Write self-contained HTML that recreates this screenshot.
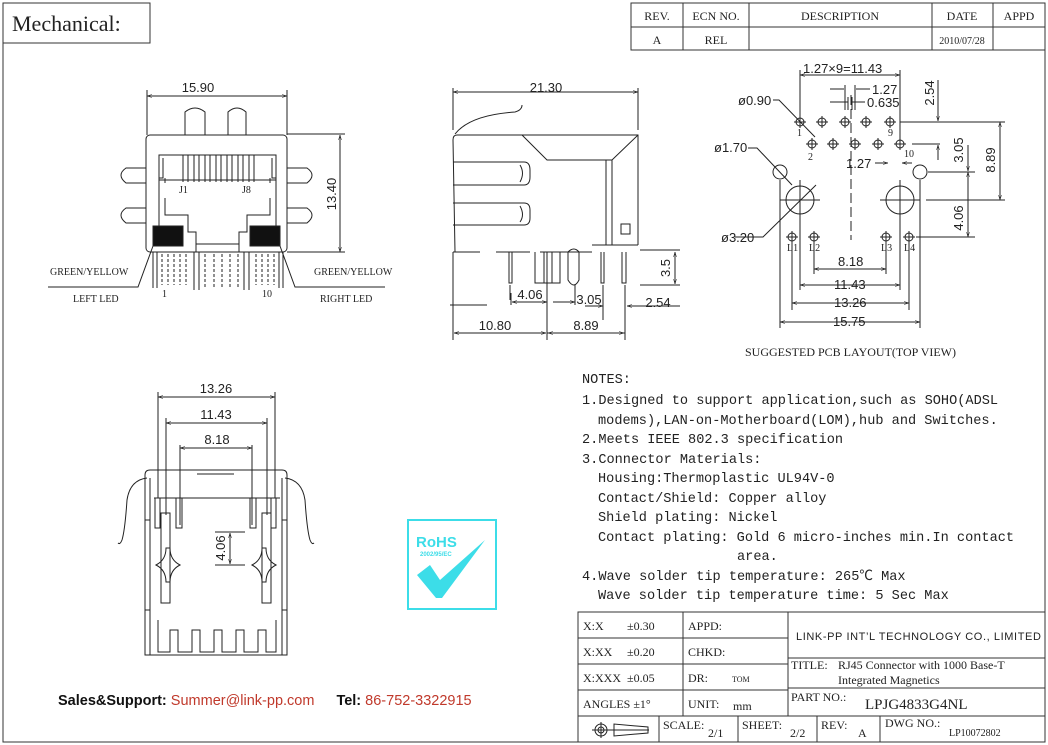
<!DOCTYPE html>
<html><head><meta charset="utf-8"><style>
html,body{margin:0;padding:0;background:#fff;}
svg{display:block;}
.t{font-family:"Liberation Serif","Noto Serif CJK SC",serif;fill:#222;}
.s{font-family:"Liberation Sans",sans-serif;fill:#222;}
.m{font-family:"Liberation Mono","Noto Sans CJK SC",monospace;fill:#222;}
</style></head><body>
<svg width="1048" height="745" viewBox="0 0 1048 745" xmlns="http://www.w3.org/2000/svg">
<defs>
<marker id="a" viewBox="0 0 10 10" refX="10" refY="5" markerWidth="7" markerHeight="5" orient="auto-start-reverse"><path d="M0,2 L10,5 L0,8" fill="none" stroke="#222"/></marker>
</defs>
<g fill="none" stroke="#333" stroke-width="1">
<path d="M3,43 V742 H1045 V3"/>
<rect x="3" y="3" width="147" height="40"/>
<rect x="631" y="3" width="414" height="47"/>
<path d="M631,27 H1045 M683,3 V50 M749,3 V50 M932,3 V50 M993,3 V50"/>
<rect x="578" y="612" width="467" height="130"/>
<path d="M578,638 H788 M578,664 H788 M578,690 H788 M788,658 H1045 M788,688 H1045 M578,716 H1045 M788,612 V716 M683,612 V716 M659,716 V742 M738,716 V742 M817,716 V742 M880,716 V742"/>
</g>
<text x="12" y="31" class="t" font-size="22">Mechanical:</text>
<g class="t" font-size="12" text-anchor="middle">
<text x="657" y="20">REV.</text><text x="716" y="20">ECN NO.</text><text x="840" y="20">DESCRIPTION</text><text x="962" y="20">DATE</text><text x="1019" y="20">APPD</text>
<text x="657" y="44">A</text><text x="716" y="44">REL</text><text x="962" y="44" font-size="10">2010/07/28</text>
</g>
<g class="t" font-size="12">
<text x="583" y="630">X:X</text><text x="627" y="630">±0.30</text><text x="688" y="630">APPD:</text>
<text x="583" y="656">X:XX</text><text x="627" y="656">±0.20</text><text x="688" y="656">CHKD:</text>
<text x="583" y="682">X:XXX</text><text x="627" y="682">±0.05</text><text x="688" y="682">DR:</text><text x="732" y="682" font-size="8">TOM</text>
<text x="583" y="708">ANGLES ±1°</text><text x="688" y="708">UNIT:</text><text x="733" y="710">mm</text>
<text x="663" y="729">SCALE:</text><text x="708" y="737">2/1</text>
<text x="742" y="729">SHEET:</text><text x="790" y="737">2/2</text>
<text x="821" y="729">REV:</text><text x="858" y="737">A</text>
<text x="885" y="727">DWG NO.:</text><text x="949" y="736" font-size="10">LP10072802</text>
<text x="791" y="669">TITLE:</text><text x="838" y="669">RJ45 Connector with 1000 Base-T</text>
<text x="838" y="684">Integrated Magnetics</text>
<text x="791" y="701">PART NO.:</text><text x="865" y="709" font-size="15">LPJG4833G4NL</text>
</g>
<text x="796" y="640" class="s" font-size="11" letter-spacing="0.6">LINK-PP INT’L TECHNOLOGY CO., LIMITED</text>
<g fill="none" stroke="#222"><circle cx="601" cy="730" r="6"/><circle cx="601" cy="730" r="3"/><path d="M592,730 H649 M601,722 V738 M614,724 V736 L648,733 V727 Z"/></g>

<!-- FRONT VIEW -->
<g fill="none" stroke="#222" stroke-width="1">
<path d="M147,90 V135 M287,90 V135"/>
<line x1="147" y1="96" x2="287" y2="96" marker-start="url(#a)" marker-end="url(#a)"/>
<line x1="340" y1="135" x2="340" y2="252" marker-start="url(#a)" marker-end="url(#a)"/>
<path d="M287,134 H345 M287,252 H345"/>
<rect x="146" y="135" width="141" height="117" rx="4"/>
<path d="M185,135 V112 Q195,104 205,112 V135 M228,135 V112 Q237,104 246,112 V135"/>
<path d="M146,168 H126 Q116,175 126,183 H146 M146,208 H126 Q116,215 126,223 H146 M287,168 H307 Q317,175 307,183 H287 M287,208 H307 Q317,215 307,223 H287"/>
<path d="M159,198 V155 H276 V198 M159,180 H276 M159,178 H163 V158 M276,178 H272 V158 M165,178 V183 M270,178 V183"/>
<path d="M183,155 V182 M188,155 V182 M194,155 V182 M199,155 V182 M205,155 V182 M210,155 V182 M216,155 V182 M221,155 V182 M227,155 V182 M232,155 V182 M238,155 V182 M243,155 V182 M249,155 V182 M254,155 V182"/>
<path d="M159,198 V226 M165,198 V215 H188 V232 H196 V244 H239 V232 H247 V215 H270 V198 M276,198 V226 M196,244 V252 M239,244 V252"/>
<rect x="153" y="226" width="30" height="20" fill="#111"/>
<rect x="250" y="226" width="30" height="20" fill="#111"/>
<path d="M153,252 V288 M157,252 V288 M283,252 V288 M279,252 V288"/>
<path d="M162,254 V285 M168,254 V285 M174,254 V285 M180,254 V285 M186,254 V285 M205,254 V288 M214,254 V288 M222,254 V288 M230,254 V288 M238,254 V288 M256,254 V285 M262,254 V285 M268,254 V285 M274,254 V285" stroke-dasharray="3,2"/>
<path d="M194,252 V290 M199,252 V290 M244,252 V290 M249,252 V290"/>
<path d="M48,287 H138 L153,246 M385,287 H295 L280,246"/>
</g>
<g class="t" font-size="10">
<text x="179" y="193">J1</text><text x="242" y="193">J8</text>
<text x="50" y="275">GREEN/YELLOW</text><text x="314" y="275">GREEN/YELLOW</text>
<text x="73" y="302">LEFT LED</text><text x="320" y="302">RIGHT LED</text>
<text x="162" y="297">1</text><text x="262" y="297">10</text>
</g>
<text x="198" y="92" class="s" font-size="13" text-anchor="middle">15.90</text>
<text x="336" y="194" class="s" font-size="13" text-anchor="middle" transform="rotate(-90 336 194)">13.40</text>

<!-- SIDE VIEW -->
<g fill="none" stroke="#222">
<path d="M453,88 V130 M638,88 V130 M453,252 V340 M547,252 V340 M625,285 V340 M603,285 V320 M510,285 V300 M575,285 V300"/>
<line x1="453" y1="92" x2="638" y2="92" marker-start="url(#a)" marker-end="url(#a)"/>
<path d="M455,134 Q470,115 515,112 Q522,110 522,105"/>
<path d="M457,135 H638 V245 M455,252 L453,140 Q453,135 457,135 M522,135 L547,160 H612 L638,135 M606,160 V245 M612,160 V245 M453,252 H480 M496,252 H530 M540,252 H592 M592,245 H638"/>
<path d="M453,162 H524 Q530,162 530,170 V177 Q530,185 524,185 H453 M453,203 H524 Q530,203 530,210 V218 Q530,225 524,225 H453 M520,165 Q525,173 520,182 M520,206 Q525,215 520,222"/>
<rect x="621" y="224" width="9" height="10"/>
<path d="M509,252 V283 H512 V252 M535,252 V283 H560 V252 M544,252 V283 M552,252 V283 M568,252 V280 Q574,290 579,280 V252 Q574,246 568,252 M601,252 V283 H604 V252 M622,252 V283 H626 V252"/>
<path d="M640,250 H680 M640,285 H680 M450,305 H487 M547,333 H625"/>
<line x1="675" y1="252" x2="675" y2="284" marker-start="url(#a)" marker-end="url(#a)"/>
<line x1="512" y1="302" x2="547" y2="302" marker-start="url(#a)" marker-end="url(#a)"/>
<line x1="553" y1="302" x2="575" y2="302" marker-end="url(#a)"/>
<line x1="585" y1="306" x2="603" y2="306" marker-end="url(#a)"/>
<line x1="680" y1="306" x2="627" y2="306" marker-end="url(#a)"/>
<line x1="454" y1="333" x2="546" y2="333" marker-start="url(#a)" marker-end="url(#a)"/>
<line x1="548" y1="333" x2="624" y2="333" marker-start="url(#a)" marker-end="url(#a)"/>
<path d="M511,293 V305 M575,293 V305"/>
</g>
<g class="s" font-size="13" text-anchor="middle">
<text x="546" y="92">21.30</text>
<text x="530" y="299">4.06</text><text x="589" y="304">3.05</text><text x="658" y="307">2.54</text>
<text x="495" y="330">10.80</text><text x="586" y="330">8.89</text>
<text x="670" y="268" transform="rotate(-90 670 268)">3.5</text>
</g>

<!-- PCB LAYOUT -->
<g fill="none" stroke="#222">
<circle cx="800" cy="122" r="4"/><circle cx="822" cy="122" r="4"/><circle cx="845" cy="122" r="4"/><circle cx="866" cy="122" r="4"/><circle cx="890" cy="122" r="4"/>
<circle cx="812" cy="144" r="4"/><circle cx="833" cy="144" r="4"/><circle cx="855" cy="144" r="4"/><circle cx="878" cy="144" r="4"/><circle cx="900" cy="144" r="4"/>
<circle cx="792" cy="237" r="4"/><circle cx="814" cy="237" r="4"/><circle cx="886" cy="237" r="4"/><circle cx="909" cy="237" r="4"/>
<path d="M794,122 H806 M800,116 V128 M816,122 H828 M822,116 V128 M839,122 H851 M845,116 V128 M860,122 H872 M866,116 V128 M884,122 H896 M890,116 V128 M806,144 H818 M812,138 V150 M827,144 H839 M833,138 V150 M849,144 H861 M855,138 V150 M872,144 H884 M878,138 V150 M894,144 H906 M900,138 V150 M786,237 H798 M792,231 V243 M808,237 H820 M814,231 V243 M880,237 H892 M886,231 V243 M903,237 H915 M909,231 V243"/>
<circle cx="780" cy="172" r="7"/><circle cx="920" cy="172" r="7"/>
<circle cx="800" cy="200" r="14"/><circle cx="900" cy="200" r="14"/>
<path d="M780,200 H820 M880,200 H920 M800,180 V220 M900,180 V220"/>
<path d="M800,70 V118 M900,70 V140"/>
<path d="M851,95 V240" stroke-dasharray="10,4"/>
<line x1="800" y1="75" x2="900" y2="75" marker-start="url(#a)" marker-end="url(#a)"/>
<path d="M830,89 H844 M856,89 H870 M830,102 H848 M852,102 H865 M845,85 V110 M855,85 V110 M848,97 V110 M852,97 V110"/>
<path d="M773,100 H779 L815,137 M748,148 H757 L792,185 M735,237 H763 L816,185"/>
<path d="M780,180 V328 M920,180 V328 M792,243 V310 M909,243 V310 M814,243 V274 M886,243 V274 M900,220 V290 M800,220 V290"/>
<line x1="814" y1="269" x2="886" y2="269" marker-start="url(#a)" marker-end="url(#a)"/>
<line x1="800" y1="285" x2="900" y2="285" marker-start="url(#a)" marker-end="url(#a)"/>
<line x1="792" y1="303" x2="909" y2="303" marker-start="url(#a)" marker-end="url(#a)"/>
<line x1="780" y1="322" x2="920" y2="322" marker-start="url(#a)" marker-end="url(#a)"/>
<line x1="875" y1="163" x2="888" y2="163" marker-end="url(#a)"/>
<line x1="912" y1="163" x2="902" y2="163" marker-end="url(#a)"/>
<path d="M900,122 H1005 M912,144 H940 M928,172 H975 M926,200 H1005 M916,237 H975"/>
<line x1="938" y1="80" x2="938" y2="121" marker-end="url(#a)"/>
<line x1="938" y1="160" x2="938" y2="145" marker-end="url(#a)"/>
<line x1="968" y1="145" x2="968" y2="171" marker-end="url(#a)"/>
<line x1="1000" y1="122" x2="1000" y2="200" marker-start="url(#a)" marker-end="url(#a)"/>
<line x1="968" y1="172" x2="968" y2="237" marker-start="url(#a)" marker-end="url(#a)"/>
</g>
<g class="t" font-size="10" fill="#555">
<text x="797" y="136">1</text><text x="808" y="160">2</text><text x="888" y="136">9</text><text x="904" y="157">10</text>
<text x="787" y="251">L1</text><text x="809" y="251">L2</text><text x="881" y="251">L3</text><text x="904" y="251">L4</text>
</g>
<g class="s" font-size="13">
<text x="803" y="73">1.27×9=11.43</text>
<text x="872" y="94">1.27</text><text x="867" y="107">0.635</text>
<text x="846" y="168">1.27</text>
<text x="738" y="105">ø0.90</text><text x="714" y="152">ø1.70</text><text x="721" y="242">ø3.20</text>
<text x="838" y="266">8.18</text><text x="834" y="289">11.43</text><text x="834" y="307">13.26</text><text x="833" y="326">15.75</text>
<text x="934" y="93" transform="rotate(-90 934 93)" text-anchor="middle">2.54</text>
<text x="963" y="150" transform="rotate(-90 963 150)" text-anchor="middle">3.05</text>
<text x="995" y="160" transform="rotate(-90 995 160)" text-anchor="middle">8.89</text>
<text x="963" y="218" transform="rotate(-90 963 218)" text-anchor="middle">4.06</text>
</g>
<text x="745" y="356" class="t" font-size="12">SUGGESTED PCB LAYOUT(TOP VIEW)</text>

<!-- BOTTOM VIEW -->
<g fill="none" stroke="#222">
<path d="M158,392 V498 M275,392 V498 M166,418 V515 M267,418 V515 M180,445 V525 M252,445 V525"/>
<line x1="158" y1="397" x2="275" y2="397" marker-start="url(#a)" marker-end="url(#a)"/>
<line x1="166" y1="423" x2="267" y2="423" marker-start="url(#a)" marker-end="url(#a)"/>
<line x1="180" y1="448" x2="252" y2="448" marker-start="url(#a)" marker-end="url(#a)"/>
<path d="M145,655 V475 Q145,470 150,470 H282 Q287,470 287,475 V655 Z M150,478 V655 M282,478 V655 M154,498 H280 M197,474 H234"/>
<path d="M147,478 Q130,480 127,500 Q125,530 122,540 Q120,545 118,543 M285,478 Q302,480 305,500 Q307,530 310,540 Q312,545 314,543"/>
<path d="M155,498 V528 H160 V498 M176,498 V528 H182 V498 M250,498 V528 H256 V498 M271,498 V528 H276 V498"/>
<path d="M161,513 V603 H170 V513 Z M262,513 V603 H271 V513 Z"/>
<path d="M156,565 Q166,560 166,548 H170 Q170,560 180,565 Q170,570 170,582 H166 Q166,570 156,565 Z M252,565 Q262,560 262,548 H266 Q266,560 276,565 Q266,570 266,582 H262 Q262,570 252,565 Z"/>
<path d="M145,520 H150 M145,610 H150 M282,520 H287 M282,610 H287"/>
<path d="M158,620 V652 H170 V630 H178 V652 H192 V630 H200 V652 H214 V630 H222 V652 H236 V630 H244 V652 H258 V630 H266 V652 H276 V620"/>
<path d="M215,532 H245 M215,565 H245"/>
<line x1="230" y1="533" x2="230" y2="564" marker-start="url(#a)" marker-end="url(#a)"/>
</g>
<g class="s" font-size="13" text-anchor="middle">
<text x="216" y="393">13.26</text><text x="216" y="419">11.43</text><text x="217" y="444">8.18</text>
<text x="225" y="548" transform="rotate(-90 225 548)">4.06</text>
</g>

<!-- RoHS -->
<rect x="408" y="520" width="88" height="89" fill="#fff" stroke="#3cdde8" stroke-width="2"/>
<text x="416" y="547" font-family="Liberation Sans,sans-serif" font-weight="bold" font-size="15" fill="#3cdde8">RoHS</text>
<text x="420" y="556" font-family="Liberation Sans,sans-serif" font-weight="bold" font-size="6" fill="#3cdde8">2002/95/EC</text>
<path d="M417,575 L430,565 L440,580 L485,540 L442,598 L436,598 Z" fill="#3cdde8"/>

<!-- NOTES -->
<g class="m" font-size="13.6">
<text x="582" y="383">NOTES:</text>
<text x="582" y="404">1.Designed to support application,such as SOHO(ADSL</text>
<text x="598" y="424">modems),LAN-on-Motherboard(LOM),hub and Switches.</text>
<text x="582" y="443">2.Meets IEEE 802.3 specification</text>
<text x="582" y="463">3.Connector Materials:</text>
<text x="598" y="482">Housing:Thermoplastic UL94V-0</text>
<text x="598" y="502">Contact/Shield: Copper alloy</text>
<text x="598" y="521">Shield plating: Nickel</text>
<text x="598" y="541">Contact plating: Gold 6 micro-inches min.In contact</text>
<text x="737" y="560">area.</text>
<text x="582" y="580">4.Wave solder tip temperature: 265℃ Max</text>
<text x="598" y="599">Wave solder tip temperature time: 5 Sec Max</text>
</g>

<text x="58" y="705" font-family="Liberation Sans,sans-serif" font-size="14.5"><tspan font-weight="bold" fill="#111">Sales&amp;Support: </tspan><tspan fill="#c0392b">Summer@link-pp.com</tspan><tspan font-weight="bold" fill="#111" dx="22">Tel: </tspan><tspan fill="#c0392b">86-752-3322915</tspan></text>
</svg>
</body></html>
